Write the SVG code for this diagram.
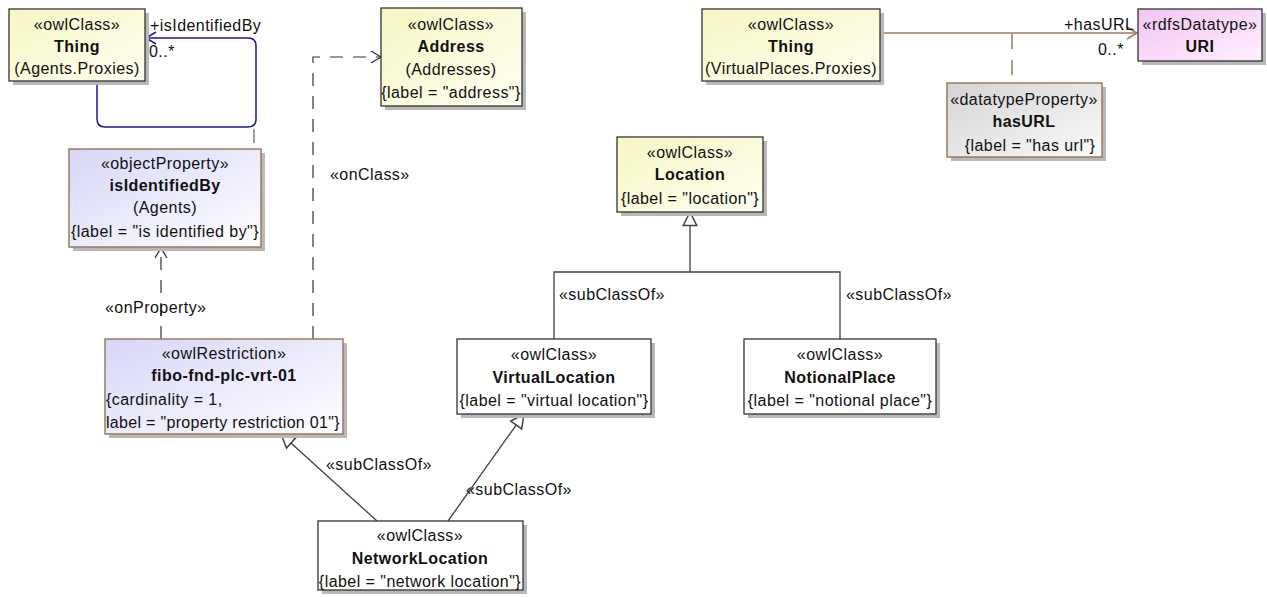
<svg xmlns="http://www.w3.org/2000/svg" width="1267" height="597" viewBox="0 0 1267 597">
<style>
text{font-family:"Liberation Sans",Arial,sans-serif;font-size:16px;fill:#111;letter-spacing:0.45px}
.c{text-anchor:middle}
.b{font-weight:bold}
.sh{fill:#b8b8b8}
.box{stroke:#333;stroke-width:1.3}
.bb{stroke:#9a7a5c;stroke-width:1.5}
.gen{fill:none;stroke:#404040;stroke-width:1.3}
.dash{fill:none;stroke:#333;stroke-width:1.2;stroke-dasharray:13 10}
</style>
<defs>
<linearGradient id="gy" x1="0" y1="0" x2="1" y2="1"><stop offset="0" stop-color="#f6f6c4"/><stop offset="1" stop-color="#fffff2"/></linearGradient>
<linearGradient id="gl" x1="0" y1="0" x2="1" y2="1"><stop offset="0" stop-color="#d6d6f8"/><stop offset="1" stop-color="#ffffff"/></linearGradient>
<linearGradient id="gg" x1="0" y1="0" x2="1" y2="1"><stop offset="0" stop-color="#d4d4d4"/><stop offset="1" stop-color="#fafafa"/></linearGradient>
<linearGradient id="gp" x1="0" y1="0" x2="1" y2="1"><stop offset="0" stop-color="#f4c4f4"/><stop offset="1" stop-color="#fff0ff"/></linearGradient>
<marker id="open" markerUnits="userSpaceOnUse" markerWidth="16" markerHeight="16" refX="0" refY="0" viewBox="-12 -8 14 16" orient="auto"><path d="M-10 -6 L0 0 L-10 6" fill="none" stroke="#333" stroke-width="1.3"/></marker>
<marker id="openB" markerUnits="userSpaceOnUse" markerWidth="16" markerHeight="16" refX="0" refY="0" viewBox="-12 -8 14 16" orient="auto"><path d="M-10 -6 L0 0 L-10 6" fill="none" stroke="#1a1a99" stroke-width="1.5"/></marker>
<marker id="openR" markerUnits="userSpaceOnUse" markerWidth="16" markerHeight="16" refX="0" refY="0" viewBox="-12 -8 14 16" orient="auto"><path d="M-10 -6 L0 0 L-10 6" fill="none" stroke="#9a7a5c" stroke-width="1.5"/></marker>
<marker id="tri" markerUnits="userSpaceOnUse" markerWidth="18" markerHeight="18" refX="0" refY="0" viewBox="-14 -8 16 16" orient="auto"><path d="M0 0 L-12 -6 L-12 6 Z" fill="#fff" stroke="#404040" stroke-width="1.3"/></marker>
</defs>

<g id="connectors">
<path d="M97 81 V119 Q97 127 105 127 H248 Q256 127 256 119 V46 Q256 38 248 38 H146" fill="none" stroke="#1a1a99" stroke-width="1.5" marker-end="url(#openB)"/>
<line x1="254" y1="129" x2="254" y2="143" stroke="#9a7a5c" stroke-width="1.5"/>
<path class="dash" d="M161 339 V248" marker-end="url(#open)"/>
<path class="dash" d="M313 339 V57 H381" marker-end="url(#open)"/>
<line x1="880" y1="33" x2="1137" y2="33" stroke="#9a7a5c" stroke-width="1.5" marker-end="url(#openR)"/>
<path d="M1012 34 V83" fill="none" stroke="#9a7a5c" stroke-width="1.5" stroke-dasharray="15 11"/>
<path class="gen" d="M554 339 V272 H840 V339"/>
<path class="gen" d="M690 272 V212" marker-end="url(#tri)"/>
<path class="gen" d="M377 521 L281 434" marker-end="url(#tri)"/>
<path class="gen" d="M448 521 L524 414" marker-end="url(#tri)"/>
<text x="150" y="31">+isIdentifiedBy</text>
<text x="149" y="57">0..*</text>
<text x="1064" y="30" letter-spacing="0">+hasURL</text>
<text x="1098" y="55">0..*</text>
<text x="105" y="313">«onProperty»</text>
<text x="330" y="180">«onClass»</text>
<text x="559" y="300">«subClassOf»</text>
<text x="846" y="300">«subClassOf»</text>
<text x="326" y="470">«subClassOf»</text>
<text x="466" y="495">«subClassOf»</text>
</g>

<g id="thing-agents">
<rect class="sh" x="13" y="13" width="136" height="72"/>
<rect class="box" x="9" y="9" width="136" height="72" fill="url(#gy)"/>
<text class="c" x="77" y="30">«owlClass»</text>
<text class="c b" x="77" y="52">Thing</text>
<text class="c" x="77" y="74">(Agents.Proxies)</text>
</g>

<g id="address">
<rect class="sh" x="385" y="12" width="141" height="98"/>
<rect class="box" x="381" y="8" width="141" height="98" fill="url(#gy)"/>
<text class="c" x="451" y="30">«owlClass»</text>
<text class="c b" x="451" y="52">Address</text>
<text class="c" x="451" y="75">(Addresses)</text>
<text class="c" x="451" y="98">{label = "address"}</text>
</g>

<g id="thing-vp">
<rect class="sh" x="706" y="13" width="178" height="72"/>
<rect class="box" x="702" y="9" width="178" height="72" fill="url(#gy)"/>
<text class="c" x="791" y="30">«owlClass»</text>
<text class="c b" x="791" y="52">Thing</text>
<text class="c" x="791" y="74">(VirtualPlaces.Proxies)</text>
</g>

<g id="uri">
<rect class="sh" x="1142" y="13" width="124" height="52"/>
<rect class="box" x="1138" y="9" width="124" height="52" fill="url(#gp)"/>
<text class="c" x="1200" y="30">«rdfsDatatype»</text>
<text class="c b" x="1200" y="52">URI</text>
</g>

<g id="hasurl">
<rect class="sh" x="951" y="87" width="155" height="74"/>
<rect class="bb" x="947" y="83" width="155" height="74" fill="url(#gg)"/>
<text class="c" x="1024" y="105">«datatypeProperty»</text>
<text class="c b" x="1024" y="127">hasURL</text>
<text class="c" x="1030" y="151">{label = "has url"}</text>
</g>

<g id="isidentifiedby">
<rect class="sh" x="73" y="153" width="192" height="98"/>
<rect class="bb" x="69" y="149" width="192" height="98" fill="url(#gl)"/>
<text class="c" x="165" y="169">«objectProperty»</text>
<text class="c b" x="165" y="191">isIdentifiedBy</text>
<text class="c" x="165" y="213">(Agents)</text>
<text class="c" x="165" y="237">{label = "is identified by"}</text>
</g>

<g id="restriction">
<rect class="sh" x="109" y="343" width="238" height="95"/>
<rect class="bb" x="105" y="339" width="238" height="95" fill="url(#gl)"/>
<text class="c" x="224" y="359">«owlRestriction»</text>
<text class="c b" x="224" y="381">fibo-fnd-plc-vrt-01</text>
<text x="106" y="405">{cardinality = 1,</text>
<text x="106" y="428" textLength="234" lengthAdjust="spacing">label = "property restriction 01"}</text>
</g>

<g id="location">
<rect class="sh" x="621" y="141" width="146" height="75"/>
<rect class="box" x="617" y="137" width="146" height="75" fill="url(#gy)"/>
<text class="c" x="690" y="158">«owlClass»</text>
<text class="c b" x="690" y="180">Location</text>
<text class="c" x="690" y="204">{label = "location"}</text>
</g>

<g id="virtuallocation">
<rect class="sh" x="461" y="343" width="194" height="75"/>
<rect class="box" x="457" y="339" width="194" height="75" fill="#fff"/>
<text class="c" x="554" y="360">«owlClass»</text>
<text class="c b" x="554" y="383">VirtualLocation</text>
<text class="c" x="554" y="406">{label = "virtual location"}</text>
</g>

<g id="notionalplace">
<rect class="sh" x="748" y="343" width="192" height="75"/>
<rect class="box" x="744" y="339" width="192" height="75" fill="#fff"/>
<text class="c" x="840" y="360">«owlClass»</text>
<text class="c b" x="840" y="383">NotionalPlace</text>
<text class="c" x="840" y="406">{label = "notional place"}</text>
</g>

<g id="networklocation">
<rect class="sh" x="322" y="525" width="205" height="69"/>
<rect class="box" x="318" y="521" width="205" height="69" fill="#fff"/>
<text class="c" x="420" y="541">«owlClass»</text>
<text class="c b" x="420" y="564">NetworkLocation</text>
<text class="c" x="420" y="587">{label = "network location"}</text>
</g>
</svg>
